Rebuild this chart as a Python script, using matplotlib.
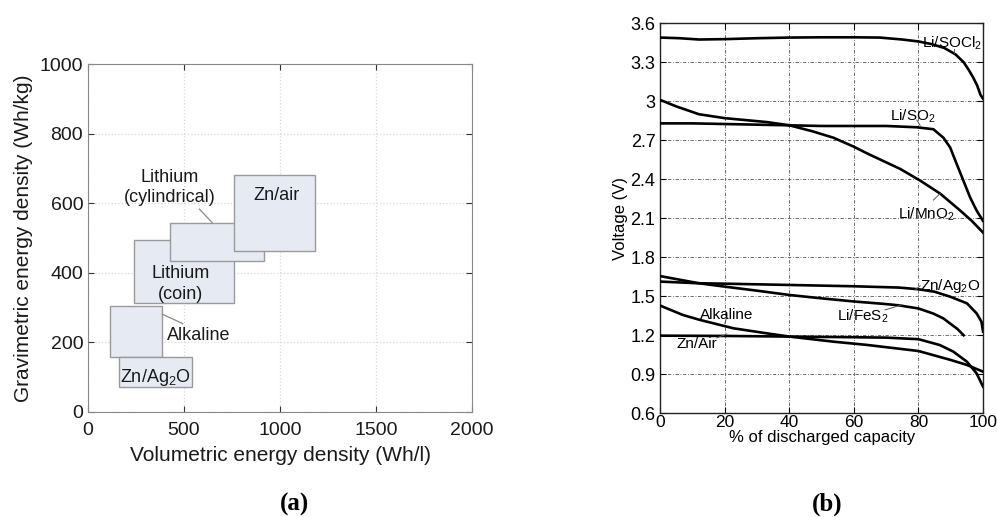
import matplotlib
matplotlib.use("Agg")
import matplotlib.pyplot as plt

plt.rcParams['font.family'] = ['Liberation Sans', 'DejaVu Sans']
plt.rcParams['mathtext.fontset'] = 'custom'
plt.rcParams['mathtext.rm'] = 'Liberation Sans'
plt.rcParams['mathtext.it'] = 'Liberation Sans'

# ---- (a) energy density boxes: [x0, x1] in Wh/l, [y0, y1] in Wh/kg
box_names = ['Alkaline', 'Zn/Ag2O', 'Lithium (coin)', 'Lithium (cylindrical)', 'Zn/air']
box_vol_lo = [116, 160, 240, 429, 762]
box_vol_hi = [384, 540, 762, 918, 1184]
box_grav_lo = [159, 73, 312, 434, 463]
box_grav_hi = [305, 159, 493, 543, 682]

# ---- (b) discharge curves
socl2_x = [0, 6, 12, 20, 30, 40, 50, 60, 68, 75, 80, 84, 88, 91.5, 94, 95.6, 97, 98.2, 99.2, 100]
socl2_v = [3.49, 3.485, 3.475, 3.478, 3.485, 3.49, 3.492, 3.492, 3.49, 3.475, 3.46, 3.44, 3.41,
           3.36, 3.30, 3.24, 3.18, 3.12, 3.05, 3.02]
so2_x = [0, 10, 20, 30, 40, 50, 60, 70, 79.4, 84.6, 87.7, 89.8, 91.8, 93.9, 96, 98, 100]
so2_v = [2.83, 2.83, 2.825, 2.82, 2.815, 2.81, 2.81, 2.81, 2.80, 2.785, 2.72, 2.645, 2.52,
         2.39, 2.26, 2.16, 2.08]
mno2_x = [0, 5, 12, 20, 33, 40, 47, 53.6, 60, 64, 70, 74.3, 80.5, 86.7, 92.9, 96.5, 100]
mno2_v = [3.01, 2.96, 2.90, 2.87, 2.84, 2.815, 2.77, 2.72, 2.65, 2.60, 2.53, 2.48, 2.39, 2.29,
          2.16, 2.08, 1.99]
ag2o_x = [0, 12, 20, 40, 60, 74, 80, 85, 89.8, 95, 98, 99.5, 100]
ag2o_v = [1.613, 1.60, 1.597, 1.587, 1.577, 1.567, 1.554, 1.535, 1.497, 1.446, 1.369, 1.305, 1.228]
fes2_x = [0, 12, 20, 30, 40, 50, 60, 70, 74, 80, 84.6, 87.7, 89.8, 92, 94]
fes2_v = [1.655, 1.60, 1.574, 1.543, 1.51, 1.484, 1.46, 1.44, 1.43, 1.406, 1.367, 1.33, 1.29, 1.25, 1.20]
alk_x = [0, 7, 12.3, 22.6, 33, 40, 53.6, 64, 80, 90, 95, 100]
alk_v = [1.428, 1.356, 1.318, 1.254, 1.215, 1.19, 1.151, 1.126, 1.079, 1.01, 0.972, 0.92]
znair_x = [0, 20, 40, 60, 70, 80, 86.6, 90.8, 95, 98, 100]
znair_v = [1.197, 1.195, 1.19, 1.185, 1.182, 1.17, 1.125, 1.074, 0.997, 0.907, 0.805]

fig = plt.figure(figsize=(9.97, 5.17), dpi=100)

# ================= (a)
ax1 = fig.add_axes([0.0883, 0.2031, 0.3851, 0.6731])
for i in range(len(box_names)):
    ax1.bar(x=box_vol_lo[i], height=box_grav_hi[i] - box_grav_lo[i],
            width=box_vol_hi[i] - box_vol_lo[i], bottom=box_grav_lo[i], align='edge',
            facecolor='#e6eaf2', edgecolor='#9a9a9a', linewidth=1.0, zorder=3 + i)
ax1.set_xlim(0, 2000)
ax1.set_ylim(0, 1000)
ax1.set_xticks([0, 500, 1000, 1500, 2000])
ax1.set_yticks([0, 200, 400, 600, 800, 1000])
ax1.grid(True, color='#d8d8d8', linestyle=':', linewidth=0.9, zorder=0)
ax1.set_axisbelow(True)
ax1.tick_params(direction='in', top=True, right=True, labelsize=14, colors='#333333',
                length=4, width=0.8, labelcolor='#1a1a1a')
ax1.tick_params(axis='x', pad=7)
for s in ax1.spines.values():
    s.set_color('#888888')
ax1.set_xlabel('Volumetric energy density (Wh/l)', fontsize=15, color='#1a1a1a', labelpad=5)
ax1.set_ylabel('Gravimetric energy density (Wh/kg)', fontsize=15, color='#1a1a1a', labelpad=5)

tk = dict(fontsize=13, color='#1a1a1a', ha='center', va='center', zorder=20)
ax1.text(983, 622, 'Zn/air', **tk)
ax1.text(427, 646, 'Lithium\n(cylindrical)', linespacing=1.25, **tk)
ax1.text(484, 368, 'Lithium\n(coin)', linespacing=1.25, **tk)
ax1.text(575, 221, 'Alkaline', **tk)
ax1.text(349, 99, r'Zn/Ag$_2$O', **tk)
ax1.plot([580, 647], [583, 544], color='#888888', lw=0.9, zorder=20)
ax1.plot([387, 493], [281, 254], color='#888888', lw=0.9, zorder=20)

fig.text(0.295, 0.025, '(a)', fontsize=18, fontweight='bold', family='Liberation Serif',
         ha='center', va='center')

# ================= (b)
ax2 = fig.add_axes([0.6623, 0.2006, 0.3237, 0.7544])
lw = 1.9
for xs, vs in [(socl2_x, socl2_v), (so2_x, so2_v), (mno2_x, mno2_v), (ag2o_x, ag2o_v),
               (fes2_x, fes2_v), (alk_x, alk_v), (znair_x, znair_v)]:
    ax2.plot(xs, vs, color='black', lw=lw, zorder=5)
ax2.set_xlim(0, 100)
ax2.set_ylim(0.6, 3.6)
ax2.set_xticks([0, 20, 40, 60, 80, 100])
ax2.set_yticks([0.6, 0.9, 1.2, 1.5, 1.8, 2.1, 2.4, 2.7, 3.0, 3.3, 3.6])
ax2.set_yticklabels(['0.6', '0.9', '1.2', '1.5', '1.8', '2.1', '2.4', '2.7', '3', '3.3', '3.6'])
ax2.grid(True, color='#555555', linestyle=(0, (4, 2, 1, 2)), linewidth=0.6, zorder=0)
ax2.tick_params(direction='in', top=True, right=True, labelsize=13, length=4, width=0.8)
ax2.tick_params(axis='x', pad=1.5, labelsize=12.5)
for s in ax2.spines.values():
    s.set_color('#222222')
    s.set_linewidth(1.0)
ax2.set_xlabel('% of discharged capacity', fontsize=12, labelpad=0)
ax2.set_ylabel('Voltage (V)', fontsize=12, labelpad=2)

lk = dict(fontsize=11, color='black', va='center_baseline', zorder=10)
ax2.text(81, 3.465, r'Li/SOCl$_2$', ha='left', **lk)
ax2.text(71.1, 2.90, r'Li/SO$_2$', ha='left', **lk)
ax2.text(73.8, 2.145, r'Li/MnO$_2$', ha='left', **lk)
ax2.text(80.5, 1.60, r'Zn/Ag$_2$O', ha='left', **lk)
ax2.text(54.6, 1.365, r'Li/FeS$_2$', ha='left', **lk)
ax2.text(12.3, 1.37, 'Alkaline', ha='left', **lk)
ax2.text(5.1, 1.145, 'Zn/Air', ha='left', **lk)
ld = dict(color='#555555', lw=0.7, zorder=6)
ax2.plot([91, 91], [3.40, 3.37], **ld)
ax2.plot([79.5, 80.5], [2.855, 2.815], **ld)
ax2.plot([86.7, 84.6], [2.29, 2.24], **ld)
ax2.plot([79, 80.5], [1.55, 1.58], **ld)
ax2.plot([69.6, 74.8], [1.395, 1.434], **ld)
ax2.plot([20.5, 20], [1.335, 1.29], **ld)
ax2.plot([17.5, 20.6], [1.18, 1.21], **ld)

fig.text(0.8295, 0.025, '(b)', fontsize=18, fontweight='bold', family='Liberation Serif',
         ha='center', va='center')

fig.savefig('out.png', dpi=100)
